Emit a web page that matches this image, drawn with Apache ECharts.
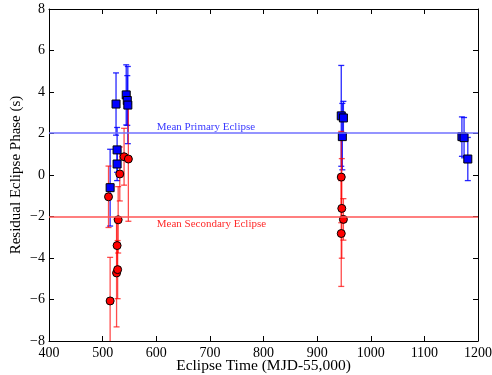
<!DOCTYPE html>
<html>
<head>
<meta charset="utf-8">
<script src="https://cdn.jsdelivr.net/npm/echarts@6/dist/echarts.min.js"></script>
<style>
  html, body { margin: 0; padding: 0; background: #fff; }
  #chart { width: 492px; height: 375px; }
</style>
</head>
<body>
<div id="chart"></div>
<script>
// primary eclipse residuals (blue squares)
const primaryX   = [514, 525, 527, 527, 544, 546, 547, 945, 949, 947, 1170, 1174, 1181];
const primaryY   = [-0.61, 3.42, 1.21, 0.53, 3.86, 3.59, 3.37, 2.85, 2.75, 1.85, 1.85, 1.80, 0.77];
const primaryErr = [1.85, 1.5, 1.08, 0.8, 1.45, 1.2, 1.86, 2.43, 0.8, 1.6, 0.95, 0.97, 1.04];

// secondary eclipse residuals (red circles)
const secondaryX   = [511, 514, 526, 527, 528, 529, 532, 540, 548, 945, 946, 949, 945];
const secondaryY   = [-1.05, -6.07, -4.72, -3.40, -4.56, -2.16, 0.05, 0.88, 0.77, -0.10, -1.61, -2.14, -2.82];
const secondaryErr = [1.48, 2.1, 2.6, 1.2, 1.4, 1.6, 1.3, 1.37, 3.0, 2.2, 2.4, 1.0, 2.55];

const meanPrimary = 2.03;
const meanSecondary = -2.03;

const font = 'Liberation Serif, Times New Roman, serif';

// [x, low, high]
const toBars = (xs, ys, es) => xs.map((x, i) => [x, ys[i] - es[i], ys[i] + es[i]]);
const toPts = (xs, ys) => xs.map((x, i) => [x, ys[i]]);
const tickFmt = v => String(v).replace('-', '\u2212');

const errorBar = color => (params, api) => {
  const x = api.value(0);
  const bot = api.coord([x, api.value(1)]);
  const top = api.coord([x, api.value(2)]);
  const w = 3;
  const style = { stroke: color, lineWidth: 1.3 };
  return {
    type: 'group',
    children: [
      { type: 'line', shape: { x1: top[0], y1: top[1], x2: bot[0], y2: bot[1] }, style },
      { type: 'line', shape: { x1: top[0] - w, y1: top[1], x2: top[0] + w, y2: top[1] }, style },
      { type: 'line', shape: { x1: bot[0] - w, y1: bot[1], x2: bot[0] + w, y2: bot[1] }, style }
    ]
  };
};

const chart = echarts.init(document.getElementById('chart'));

const xBase = {
  type: 'value', min: 400, max: 1200, interval: 100,
  axisLine: { onZero: false, lineStyle: { color: '#000', width: 1 } },
  axisTick: { inside: true, length: 5, lineStyle: { color: '#000' } },
  splitLine: { show: false }
};
const yBase = {
  type: 'value', min: -8, max: 8, interval: 2,
  axisLine: { onZero: false, lineStyle: { color: '#000', width: 1 } },
  axisTick: { inside: true, length: 5, lineStyle: { color: '#000' } },
  splitLine: { show: false }
};

chart.setOption({
  animation: false,
  grid: { left: 49, right: 14, top: 9, bottom: 34, outerBoundsMode: 'none' },
  xAxis: [
    Object.assign({}, xBase, {
      position: 'bottom',
      name: 'Eclipse Time (MJD-55,000)',
      nameLocation: 'middle', nameGap: 17, nameMoveOverlap: false,
      nameTextStyle: { fontFamily: font, fontSize: 15.5, color: '#000' },
      axisLabel: { fontFamily: font, fontSize: 14, color: '#000', margin: 5, formatter: tickFmt }
    }),
    Object.assign({}, xBase, { position: 'top', axisLabel: { show: false } })
  ],
  yAxis: [
    Object.assign({}, yBase, {
      position: 'left',
      name: 'Residual Eclipse Phase (s)',
      nameLocation: 'middle', nameGap: 25, nameMoveOverlap: false,
      nameTextStyle: { fontFamily: font, fontSize: 15, color: '#000' },
      axisLabel: { fontFamily: font, fontSize: 14, color: '#000', margin: 4, formatter: tickFmt }
    }),
    Object.assign({}, yBase, { position: 'right', axisLabel: { show: false } })
  ],
  series: [
    {
      type: 'custom', name: 'primaryErr', clip: true,
      renderItem: errorBar('rgba(0,0,255,0.85)'),
      encode: { x: 0, y: [1, 2] },
      data: toBars(primaryX, primaryY, primaryErr),
      z: 2
    },
    {
      type: 'custom', name: 'secondaryErr', clip: true,
      renderItem: errorBar('rgba(255,0,0,0.7)'),
      encode: { x: 0, y: [1, 2] },
      data: toBars(secondaryX, secondaryY, secondaryErr),
      z: 2
    },
    {
      type: 'scatter', name: 'Secondary',
      symbol: 'circle', symbolSize: 8,
      itemStyle: { color: '#ff0000', borderColor: '#000', borderWidth: 1, opacity: 1 },
      data: toPts(secondaryX, secondaryY),
      markLine: {
        silent: true, symbol: 'none',
        lineStyle: { color: '#ff5555', width: 1.5, type: 'solid' },
        label: { show: false },
        data: [{ yAxis: meanSecondary }]
      },
      markPoint: {
        symbol: 'circle', symbolSize: 0,
        label: {
          show: true, formatter: 'Mean Secondary Eclipse',
          position: [0, 7], align: 'left', verticalAlign: 'middle',
          fontFamily: font, fontSize: 11, color: '#ff2a2a'
        },
        data: [{ coord: [601, meanSecondary] }]
      },
      z: 3
    },
    {
      type: 'scatter', name: 'Primary',
      symbol: 'rect', symbolSize: 8,
      itemStyle: { color: '#0000ff', borderColor: '#000', borderWidth: 1, opacity: 1 },
      data: toPts(primaryX, primaryY),
      markLine: {
        silent: true, symbol: 'none',
        lineStyle: { color: '#7070ff', width: 1.5, type: 'solid' },
        label: { show: false },
        data: [{ yAxis: meanPrimary }]
      },
      markPoint: {
        symbol: 'circle', symbolSize: 0,
        label: {
          show: true, formatter: 'Mean Primary Eclipse',
          position: [0, -6], align: 'left', verticalAlign: 'middle',
          fontFamily: font, fontSize: 11, color: '#3a3aff'
        },
        data: [{ coord: [601, meanPrimary] }]
      },
      z: 4
    }
  ]
});
</script>
</body>
</html>
